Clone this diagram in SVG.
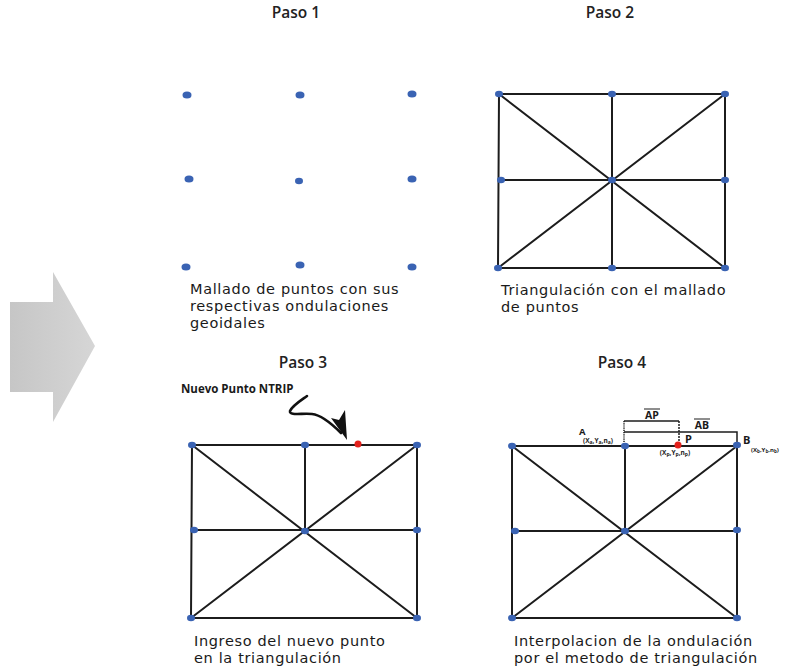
<svg xmlns="http://www.w3.org/2000/svg" width="795" height="669" viewBox="0 0 795 669">
<defs>
<style>
.ttl{font-family:"Open Sans","Liberation Sans",sans-serif;font-weight:600;font-size:15.5px;fill:#222;text-anchor:middle}
.cap{font-family:"DejaVu Sans","Liberation Sans",sans-serif;font-size:14.5px;letter-spacing:0.65px;fill:#1a1a1a}
.lbl{font-family:"Open Sans","Liberation Sans",sans-serif;font-weight:700;fill:#1a1a1a}
.edge{stroke:#1c1c1c;stroke-width:2;fill:none;stroke-linecap:round}
.dot{fill:#3a63b3}
.red{fill:#e3211c}
.br{stroke:#1c1c1c;stroke-width:1.5;fill:none}
</style>
<linearGradient id="gArrow" x1="0" y1="0" x2="1" y2="0">
<stop offset="0" stop-color="#c6c6c6"/>
<stop offset="1" stop-color="#d6d6d6"/>
</linearGradient>
</defs>
<rect width="795" height="669" fill="#fff"/>

<!-- big gray arrow -->
<g id="bigArrow">
<polygon points="10,302 53,302 53,272 95,346 53,422 53,392 10,392" fill="url(#gArrow)"/>
</g>

<!-- titles -->
<g id="titles">
<text class="ttl" x="296" y="18">Paso 1</text>
<text class="ttl" x="610" y="18">Paso 2</text>
<text class="ttl" x="303" y="368">Paso 3</text>
<text class="ttl" x="622" y="368">Paso 4</text>
</g>

<!-- Paso 1 -->
<g id="paso1">
<g id="p1-nodes">
<ellipse class="dot" cx="187" cy="95" rx="4.5" ry="3.5"/>
<ellipse class="dot" cx="300" cy="95" rx="4.5" ry="3.5"/>
<ellipse class="dot" cx="412" cy="94" rx="4.5" ry="3.5" fill="#2d55a3"/>
<ellipse class="dot" cx="189" cy="179" rx="4.5" ry="3.5"/>
<ellipse class="dot" cx="299" cy="181" rx="4" ry="3.2"/>
<ellipse class="dot" cx="412" cy="179" rx="4.5" ry="3.5"/>
<ellipse class="dot" cx="186" cy="267" rx="4.5" ry="3.5"/>
<ellipse class="dot" cx="300" cy="265" rx="4.5" ry="3.5"/>
<ellipse class="dot" cx="412" cy="267" rx="4.5" ry="3.5"/>
</g>
<text class="cap" x="190" y="294">Mallado de puntos con sus<tspan x="190" dy="17">respectivas ondulaciones</tspan><tspan x="190" dy="17">geoidales</tspan></text>
</g>

<!-- Paso 2 -->
<g id="paso2">
<g id="p2-connectors">
<polyline class="edge" points="499,94 725,94 725,268 498,268 499,94"/>
<line class="edge" x1="612" y1="94" x2="612" y2="268"/>
<line class="edge" x1="501" y1="180" x2="725" y2="180"/>
<line class="edge" x1="499" y1="94" x2="725" y2="268"/>
<line class="edge" x1="725" y1="94" x2="498" y2="268"/>
</g>
<g id="p2-nodes">
<ellipse class="dot" cx="499" cy="94" rx="4" ry="3.2"/>
<ellipse class="dot" cx="612" cy="94" rx="4" ry="3.2"/>
<ellipse class="dot" cx="725" cy="94" rx="4" ry="3.2"/>
<ellipse class="dot" cx="501" cy="180" rx="4" ry="3.2"/>
<ellipse class="dot" cx="612" cy="180" rx="4" ry="3.2"/>
<ellipse class="dot" cx="725" cy="180" rx="4" ry="3.2"/>
<ellipse class="dot" cx="498" cy="268" rx="4" ry="3.2"/>
<ellipse class="dot" cx="612" cy="268" rx="4" ry="3.2"/>
<ellipse class="dot" cx="725" cy="268" rx="4" ry="3.2"/>
</g>
<text class="cap" x="501" y="294.5">Triangulación con el mallado<tspan x="501" dy="17">de puntos</tspan></text>
</g>

<!-- Paso 3 -->
<g id="paso3">
<g id="p3-connectors">
<polyline class="edge" points="192,445 417,445 417,618 191,618 192,445"/>
<line class="edge" x1="305" y1="445" x2="305" y2="531"/>
<line class="edge" x1="194" y1="530" x2="417" y2="530"/>
<line class="edge" x1="192" y1="445" x2="417" y2="618"/>
<line class="edge" x1="417" y1="445" x2="191" y2="618"/>
</g>
<g id="p3-nodes">
<ellipse class="dot" cx="192" cy="445" rx="4" ry="3.2"/>
<ellipse class="dot" cx="305" cy="445" rx="4" ry="3.2"/>
<ellipse class="dot" cx="417" cy="445" rx="4" ry="3.2"/>
<ellipse class="dot" cx="194" cy="530" rx="4" ry="3.2"/>
<ellipse class="dot" cx="305" cy="531" rx="4" ry="3.2"/>
<ellipse class="dot" cx="417" cy="530" rx="4" ry="3.2"/>
<ellipse class="dot" cx="191" cy="618" rx="4" ry="3.2"/>
<ellipse class="dot" cx="417" cy="618" rx="4" ry="3.2"/>
<circle class="red" cx="358" cy="444" r="3.5"/>
</g>
<g id="ntrip-label">
<text class="lbl" x="181" y="393" font-size="11.5">Nuevo Punto NTRIP</text>
<path d="M307,396 C300,401 292,406 290,411 C289,416 302,413 312,414 C322,415 332,424 341,433" stroke="#111" stroke-width="2.6" fill="none" stroke-linecap="round"/>
<path d="M347,440 L331,418 L339,420 L345,410 Z" fill="#111"/>
</g>
<text class="cap" x="194" y="646">Ingreso del nuevo punto<tspan x="194" dy="17">en la triangulación</tspan></text>
</g>

<!-- Paso 4 -->
<g id="paso4">
<g id="p4-connectors">
<polyline class="edge" points="512,446 737,446 737,618 512,618 512,446"/>
<line class="edge" x1="625" y1="446" x2="625" y2="531"/>
<line class="edge" x1="515" y1="531" x2="737" y2="531"/>
<line class="edge" x1="512" y1="446" x2="737" y2="618"/>
<line class="edge" x1="737" y1="446" x2="512" y2="618"/>
</g>
<g id="p4-brackets">
<polyline class="br" points="624,421 679,421"/>
<line x1="624" y1="421" x2="624" y2="445" stroke="#1c1c1c" stroke-width="1.5" stroke-dasharray="1.2,1"/>
<line x1="679" y1="421" x2="679" y2="444" stroke="#1c1c1c" stroke-width="1.5" stroke-dasharray="2,1"/>
<polyline class="br" points="624,432 737,432 737,446"/>
<text class="lbl" x="652" y="419" font-size="10.5" text-anchor="middle">AP</text>
<line x1="644" y1="409" x2="660" y2="409" stroke="#1c1c1c" stroke-width="1"/>
<text class="lbl" x="702" y="429" font-size="10.5" text-anchor="middle">AB</text>
<line x1="694" y1="419" x2="710" y2="419" stroke="#1c1c1c" stroke-width="1"/>
</g>
<g id="p4-nodes">
<ellipse class="dot" cx="512" cy="446" rx="4" ry="3.2"/>
<ellipse class="dot" cx="625" cy="446" rx="4" ry="3.2"/>
<ellipse class="dot" cx="737" cy="445" rx="4" ry="3.2"/>
<ellipse class="dot" cx="515" cy="531" rx="4" ry="3.2"/>
<ellipse class="dot" cx="625" cy="531" rx="4" ry="3.2"/>
<ellipse class="dot" cx="737" cy="530" rx="4" ry="3.2"/>
<ellipse class="dot" cx="512" cy="618" rx="4" ry="3.2"/>
<ellipse class="dot" cx="737" cy="618" rx="4" ry="3.2"/>
<circle class="red" cx="678" cy="445" r="3.5"/>
</g>
<g id="p4-labels">
<text class="lbl" x="579" y="435" font-size="9.5">A</text>
<text class="lbl" x="583" y="443" font-size="6.5">(X<tspan font-size="5" dy="1">a</tspan><tspan dy="-1">,Y</tspan><tspan font-size="5" dy="1">a</tspan><tspan dy="-1">,n</tspan><tspan font-size="5" dy="1">a</tspan><tspan dy="-1">)</tspan></text>
<text class="lbl" x="685" y="443" font-size="11">P</text>
<text class="lbl" x="675" y="455" font-size="6.5" text-anchor="middle">(X<tspan font-size="5" dy="1">p</tspan><tspan dy="-1">,Y</tspan><tspan font-size="5" dy="1">p</tspan><tspan dy="-1">,n</tspan><tspan font-size="5" dy="1">p</tspan><tspan dy="-1">)</tspan></text>
<text class="lbl" x="743" y="444" font-size="11">B</text>
<text class="lbl" x="751" y="452" font-size="6">(X<tspan font-size="4.5" dy="1">b</tspan><tspan dy="-1">,Y</tspan><tspan font-size="4.5" dy="1">b</tspan><tspan dy="-1">,n</tspan><tspan font-size="4.5" dy="1">b</tspan><tspan dy="-1">)</tspan></text>
</g>
<text class="cap" x="514" y="646">Interpolacion de la ondulación<tspan x="514" dy="17">por el metodo de triangulación</tspan></text>
</g>
</svg>
